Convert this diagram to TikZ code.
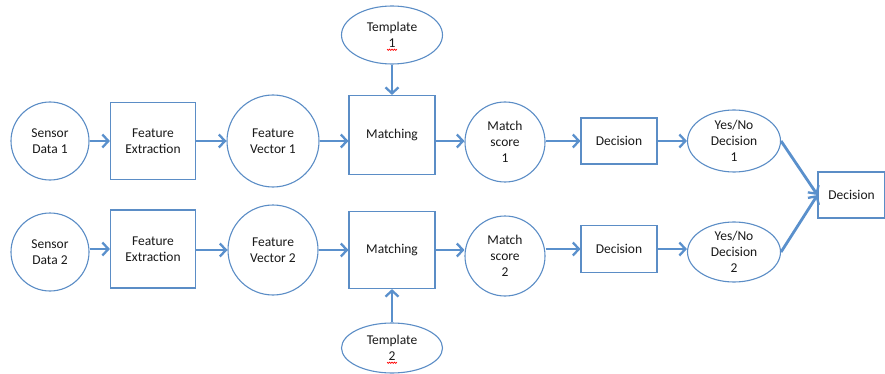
\documentclass[tikz,border=0pt]{standalone}
\usepackage{fontspec}
\setmainfont{Carlito}
\usetikzlibrary{shapes.geometric,arrows.meta}
\definecolor{bblue}{HTML}{5B8DC6}
\definecolor{ablue}{HTML}{5A90CC}
\tikzset{
  base/.style={draw=bblue, line width=1.1pt, fill=white, inner sep=0pt, align=center,
    font=\fontsize{13.5}{16}\selectfont, text=black!90},
  circ/.style={base, circle, minimum size=#1},
  boxn/.style={base, rectangle, minimum width=#1},
  ell/.style={base, ellipse},
  arr/.style={draw=ablue, line width=2.8pt, -{Straight Barb[length=6pt,width=13pt,line width=2.3pt]}},
  squig/.style={draw=red, line width=0.6pt}
}
\begin{document}
\begin{tikzpicture}[x=1pt,y=-1pt]
\useasboundingbox (0,0) rectangle (885,374);
% row 1
\node[circ=78pt] (s1) at (50,141) {Sensor\\Data 1};
\node[boxn=85pt, minimum height=77pt] (fe1) at (153,141) {Feature\\Extraction};
\node[circ=92pt] (fv1) at (273,141) {Feature\\Vector 1};
\node[boxn=86pt, minimum height=79pt] (m1) at (392,135) {Matching};
\node[ell, minimum width=101pt, minimum height=58pt] (t1) at (392,35) {Template\\1};
\node[circ=80pt] (ms1) at (505,142) {Match\\score\\1};
\node[boxn=76pt, minimum height=46pt] (d1) at (619,141) {Decision};
\node[ell, minimum width=93pt, minimum height=62pt] (yn1) at (734,141) {Yes/No\\Decision\\1};
% row 2
\node[circ=78pt] (s2) at (50,252) {Sensor\\Data 2};
\node[boxn=85pt, minimum height=78pt] (fe2) at (153,249) {Feature\\Extraction};
\node[circ=90pt] (fv2) at (273,250) {Feature\\Vector 2};
\node[boxn=86pt, minimum height=77pt] (m2) at (392,250) {Matching};
\node[ell, minimum width=101pt, minimum height=50pt] (t2) at (392,348) {Template\\2};
\node[circ=80pt] (ms2) at (505,256) {Match\\score\\2};
\node[boxn=76pt, minimum height=47pt] (d2) at (619,249) {Decision};
\node[ell, minimum width=93pt, minimum height=60pt] (yn2) at (734,252) {Yes/No\\Decision\\2};
% final
\node[boxn=67pt, minimum height=46pt] (df) at (851.5,195) {Decision};
% spell-check squiggles
\coordinate (q1) at (387,49);
\coordinate (q2) at (387,362);
\draw[squig] (q1) -- ++(1.25,1.5) -- ++(1.25,-1.5) -- ++(1.25,1.5) -- ++(1.25,-1.5) -- ++(1.25,1.5) -- ++(1.25,-1.5) -- ++(1.25,1.5) -- ++(1.25,-1.5);
\draw[squig] (q2) -- ++(1.25,1.5) -- ++(1.25,-1.5) -- ++(1.25,1.5) -- ++(1.25,-1.5) -- ++(1.25,1.5) -- ++(1.25,-1.5) -- ++(1.25,1.5) -- ++(1.25,-1.5);
% arrows row 1
\draw[arr] (s1.east) -- (fe1.west);
\draw[arr] (fe1.east) -- (fv1.west);
\draw[arr] (fv1.east) -- (fv1.east -| m1.west);
\draw[arr] (t1.south) -- (m1.north);
\draw[arr] (m1.east |- fv1.east) -- (fv1.east -| ms1.west);
\draw[arr] (ms1.east |- d1.west) -- (d1.west);
\draw[arr] (d1.east) -- (yn1.west);
% arrows row 2
\draw[arr] (s2.east |- fe2.west) -- (fe2.west);
\draw[arr] (fe2.east |- fv2.west) -- (fv2.west);
\draw[arr] (fv2.east) -- (fv2.east -| m2.west);
\draw[arr] (t2.north) -- (m2.south);
\draw[arr] (m2.east) -- (m2.east -| ms2.west);
\draw[arr] (ms2.east |- d2.west) -- (d2.west);
\draw[arr] (d2.east) -- (d2.east -| yn2.west);
% to final
\draw[arr] (yn1.east) -- (df.west);
\draw[arr] (yn2.east) -- (df.west);
\end{tikzpicture}
\end{document}
